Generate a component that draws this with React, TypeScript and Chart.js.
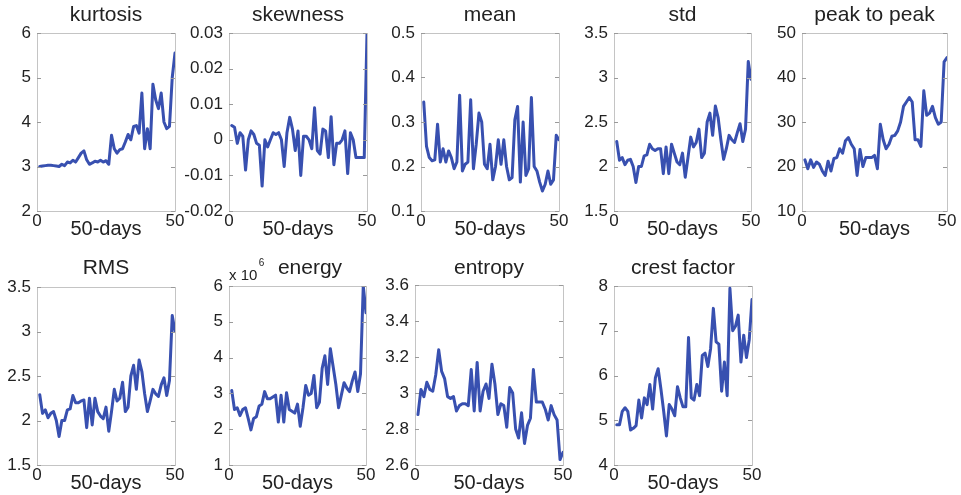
import React, { useEffect, useRef } from 'react';
import { Chart, registerables } from 'chart.js';

Chart.register(...registerables);

const DAYS = [1, 2, 3, 4, 5, 6, 7, 8, 9, 10, 11, 12, 13, 14, 15, 16, 17, 18, 19, 20, 21, 22, 23, 24, 25, 26, 27, 28, 29, 30, 31, 32, 33, 34, 35, 36, 37, 38, 39, 40, 41, 42, 43, 44, 45, 46, 47, 48, 49, 50];

const KURTOSIS = [3.00, 3.01, 3.02, 3.03, 3.03, 3.02, 3.01, 3.00, 3.05, 3.02, 3.10, 3.08, 3.14, 3.10, 3.20, 3.30, 3.35, 3.15, 3.05, 3.08, 3.12, 3.10, 3.14, 3.10, 3.13, 3.05, 3.70, 3.40, 3.30, 3.38, 3.40, 3.55, 3.72, 3.60, 3.90, 3.92, 3.75, 4.65, 3.40, 3.85, 3.40, 4.85, 4.50, 4.30, 4.65, 4.00, 3.85, 3.90, 5.00, 5.55];

const SKEWNESS = [0.004, 0.0035, -0.001, 0.002, 0.001, -0.0085, 0.0, 0.0025, 0.0015, -0.001, -0.0015, -0.013, 0.0, -0.002, 0.0, 0.002, 0.0015, 0.002, 0.0, -0.0075, 0.002, 0.0063, 0.003, -0.003, 0.0025, -0.010, 0.001, 0.001, 0.0, -0.0025, 0.009, -0.003, -0.004, 0.003, 0.0025, -0.005, 0.0065, -0.007, -0.001, -0.001, 0.0, 0.0025, -0.0095, 0.002, 0.0, -0.005, -0.005, -0.005, -0.005, 0.030];

const MEAN = [0.345, 0.245, 0.22, 0.213, 0.215, 0.295, 0.21, 0.24, 0.21, 0.235, 0.22, 0.195, 0.21, 0.36, 0.19, 0.205, 0.21, 0.35, 0.195, 0.25, 0.32, 0.30, 0.205, 0.195, 0.25, 0.17, 0.20, 0.26, 0.205, 0.26, 0.20, 0.17, 0.175, 0.305, 0.335, 0.165, 0.30, 0.18, 0.195, 0.355, 0.20, 0.19, 0.165, 0.145, 0.16, 0.19, 0.16, 0.17, 0.27, 0.26];

const STD = [2.28, 2.07, 2.10, 2.02, 2.07, 2.08, 2.00, 1.82, 2.00, 2.00, 2.12, 2.13, 2.25, 2.20, 2.18, 2.20, 2.20, 1.92, 2.22, 1.92, 2.25, 2.15, 2.05, 2.02, 2.15, 1.88, 2.10, 2.33, 2.22, 2.27, 2.42, 2.10, 2.15, 2.50, 2.60, 2.35, 2.68, 2.55, 2.30, 2.08, 2.20, 2.35, 2.30, 2.27, 2.38, 2.48, 2.28, 2.42, 3.18, 2.98];

const PEAK_TO_PEAK = [21.5, 19.5, 21.5, 19.8, 21.0, 20.5, 19.0, 18.0, 21.2, 19.0, 21.8, 22.0, 24.0, 23.0, 25.8, 26.5, 25.0, 24.0, 18.0, 23.8, 20.0, 22.0, 22.0, 22.0, 22.5, 19.5, 29.5, 26.0, 24.0, 25.0, 26.8, 27.0, 28.0, 30.0, 33.5, 34.5, 35.5, 34.5, 26.0, 26.0, 24.5, 37.0, 31.5, 32.0, 33.5, 31.0, 29.5, 30.0, 43.5, 44.5];

const RMS = [2.29, 2.08, 2.12, 2.03, 2.08, 2.10, 2.00, 1.82, 2.00, 2.00, 2.12, 2.13, 2.28, 2.20, 2.20, 2.22, 2.23, 1.92, 2.25, 1.95, 2.25, 2.10, 2.05, 2.02, 2.15, 1.88, 2.10, 2.35, 2.22, 2.25, 2.43, 2.10, 2.15, 2.50, 2.62, 2.35, 2.68, 2.55, 2.30, 2.10, 2.22, 2.35, 2.30, 2.27, 2.40, 2.48, 2.28, 2.45, 3.18, 3.00];

// energy in units of 10^6
const ENERGY = [3.08, 2.55, 2.60, 2.38, 2.55, 2.60, 2.30, 1.98, 2.30, 2.35, 2.65, 2.70, 3.05, 2.85, 2.85, 2.90, 2.95, 2.20, 2.95, 2.20, 3.02, 2.55, 2.50, 2.45, 2.70, 2.08, 2.60, 3.22, 2.95, 3.00, 3.50, 2.60, 2.75, 3.70, 4.05, 3.25, 4.25, 3.75, 3.25, 2.60, 2.95, 3.30, 3.15, 3.05, 3.35, 3.60, 3.05, 3.55, 6.00, 5.25];

const ENTROPY = [2.88, 3.02, 2.98, 3.06, 3.02, 3.01, 3.10, 3.24, 3.12, 3.08, 2.98, 2.97, 2.98, 2.90, 2.93, 2.94, 2.94, 2.93, 3.13, 2.90, 3.17, 2.90, 3.01, 3.05, 2.97, 3.16, 3.05, 2.88, 2.94, 2.93, 2.81, 3.03, 3.00, 2.80, 2.75, 2.89, 2.72, 2.82, 2.86, 3.13, 2.95, 2.95, 2.95, 2.91, 2.85, 2.93, 2.88, 2.85, 2.63, 2.67];

const CREST_FACTOR = [4.90, 4.90, 5.20, 5.28, 5.20, 4.78, 4.82, 4.88, 5.45, 5.05, 5.50, 5.35, 5.80, 5.25, 5.95, 6.15, 5.70, 5.20, 4.65, 5.35, 5.25, 5.10, 5.75, 5.50, 5.30, 5.30, 6.85, 5.50, 5.45, 5.80, 5.55, 6.45, 6.50, 6.20, 6.60, 7.50, 6.75, 6.70, 5.65, 6.30, 5.55, 7.95, 7.00, 7.10, 7.35, 6.30, 6.90, 6.40, 6.80, 7.70];

const X_LABEL = '50-days';

const FONT = '"Liberation Sans", Arial, Helvetica, sans-serif';
const BOX = '#c4c4c4';
const TICK = '#9a9a9a';
const LINE = '#3850b0';
const TEXT = '#222222';

type Panel = {
  title: string;
  data: number[];
  min: number;
  max: number;
  step: number;
  L: number;
  R: number;
  T: number;
  B: number;
  rowTop: number;
  titlePad: number;
  exponent?: boolean;
};

const PANELS: Panel[] = [
  { title: 'kurtosis', data: KURTOSIS, min: 2, max: 6, step: 1, L: 37, R: 175, T: 33, B: 211, rowTop: 0, titlePad: 3 },
  { title: 'skewness', data: SKEWNESS, min: -0.02, max: 0.03, step: 0.01, L: 229, R: 367, T: 33, B: 211, rowTop: 0, titlePad: 3 },
  { title: 'mean', data: MEAN, min: 0.1, max: 0.5, step: 0.1, L: 421, R: 559, T: 33, B: 211, rowTop: 0, titlePad: 3 },
  { title: 'std', data: STD, min: 1.5, max: 3.5, step: 0.5, L: 614, R: 751, T: 33, B: 211, rowTop: 0, titlePad: 3 },
  { title: 'peak to peak', data: PEAK_TO_PEAK, min: 10, max: 50, step: 10, L: 802, R: 947, T: 33, B: 211, rowTop: 0, titlePad: 3 },
  { title: 'RMS', data: RMS, min: 1.5, max: 3.5, step: 0.5, L: 37, R: 175, T: 287, B: 465, rowTop: 245, titlePad: 11 },
  { title: 'energy', data: ENERGY, min: 1, max: 6, step: 1, L: 229, R: 366, T: 286, B: 465, rowTop: 245, titlePad: 11, exponent: true },
  { title: 'entropy', data: ENTROPY, min: 2.6, max: 3.6, step: 0.2, L: 415, R: 563, T: 285, B: 465, rowTop: 245, titlePad: 11 },
  { title: 'crest factor', data: CREST_FACTOR, min: 4, max: 8, step: 1, L: 614, R: 752, T: 286, B: 465, rowTop: 245, titlePad: 11 },
];

const LEFT_W = 45;
const RIGHT_W = 15;
const BOTTOM_H = 30;
const TICK_LEN = 4;

const fmt = (v: any) => String(Number(Number(v).toFixed(4)));

// inward MATLAB-style tick marks on left and right edges, at the y scale's ticks
const innerTicksPlugin = {
  id: 'innerTicks',
  afterDraw(chart: any) {
    const { ctx, chartArea } = chart;
    const ys = chart.scales.y;
    ctx.save();
    ctx.strokeStyle = TICK;
    ctx.lineWidth = 1;
    ctx.beginPath();
    ys.ticks.forEach((t: any) => {
      const py = Math.round(ys.getPixelForValue(t.value)) + 0.5;
      ctx.moveTo(chartArea.left, py);
      ctx.lineTo(chartArea.left + TICK_LEN, py);
      ctx.moveTo(chartArea.right, py);
      ctx.lineTo(chartArea.right - TICK_LEN, py);
    });
    ctx.stroke();
    ctx.restore();
  },
};

function makeExponentPlugin(p: Panel) {
  return {
    id: 'exponentLabel',
    afterDraw(chart: any) {
      if (!p.exponent) return;
      const { ctx, chartArea } = chart;
      ctx.save();
      ctx.fillStyle = TEXT;
      ctx.textAlign = 'left';
      ctx.textBaseline = 'alphabetic';
      ctx.font = `15px ${FONT}`;
      ctx.fillText('x 10', chartArea.left, chartArea.top - 6);
      const w = ctx.measureText('x 10').width;
      ctx.font = `10px ${FONT}`;
      ctx.fillText('6', chartArea.left + w + 1.5, chartArea.top - 20);
      ctx.font = `21px ${FONT}`;
      ctx.textAlign = 'center';
      ctx.textBaseline = 'middle';
      ctx.fillText(p.title, (chartArea.left + chartArea.right) / 2 + 12.5, p.titlePad + 12.6);
      ctx.restore();
    },
  };
}

function PanelChart({ p }: { p: Panel }) {
  const ref = useRef<HTMLCanvasElement | null>(null);
  const width = p.R - p.L + LEFT_W + RIGHT_W;
  const height = p.B + BOTTOM_H - p.rowTop;
  const topH = p.T - p.rowTop;

  useEffect(() => {
    if (!ref.current) return;
    const chart = new Chart(ref.current, {
      type: 'line',
      data: {
        datasets: [
          {
            data: p.data.map((v, i) => ({ x: DAYS[i], y: v })),
            borderColor: LINE,
            borderWidth: 3,
            pointRadius: 0,
            tension: 0,
            fill: false,
            borderJoinStyle: 'round',
            borderCapStyle: 'round',
            xAxisID: 'x',
            yAxisID: 'y',
          } as any,
        ],
      },
      options: {
        animation: false,
        responsive: false,
        maintainAspectRatio: false,
        devicePixelRatio: 1,
        layout: { padding: 0 },
        plugins: {
          legend: { display: false },
          tooltip: { enabled: false },
          title: { display: false },
        },
        scales: {
          x: {
            type: 'linear',
            position: 'bottom',
            min: 0,
            max: 50,
            ticks: {
              stepSize: 50,
              padding: 0,
              maxRotation: 0,
              autoSkip: false,
              color: TEXT,
              font: { family: FONT, size: 17 },
              callback: fmt,
            },
            grid: { drawOnChartArea: false, drawTicks: false },
            border: { display: true, color: BOX, width: 1 },
            title: {
              display: true,
              text: X_LABEL,
              color: TEXT,
              font: { family: FONT, size: 20 },
              padding: { top: 0, bottom: 0 },
            },
            afterFit: (s: any) => {
              s.height = BOTTOM_H;
            },
          },
          xTop: {
            type: 'linear',
            position: 'top',
            min: 0,
            max: 50,
            ticks: { display: false },
            grid: { drawOnChartArea: false, drawTicks: false },
            border: { display: true, color: BOX, width: 1 },
            title: {
              display: !p.exponent,
              text: p.title,
              color: TEXT,
              font: { family: FONT, size: 21 },
              padding: { top: p.titlePad, bottom: 0 },
            },
            afterFit: (s: any) => {
              s.height = topH;
            },
          },
          y: {
            type: 'linear',
            position: 'left',
            min: p.min,
            max: p.max,
            ticks: {
              stepSize: p.step,
              padding: 6,
              autoSkip: false,
              color: TEXT,
              font: { family: FONT, size: 17 },
              callback: fmt,
            },
            grid: { drawOnChartArea: false, drawTicks: false },
            border: { display: true, color: BOX, width: 1 },
            afterFit: (s: any) => {
              s.width = LEFT_W;
            },
          },
          yRight: {
            type: 'linear',
            position: 'right',
            min: p.min,
            max: p.max,
            ticks: { display: false, stepSize: p.step },
            grid: { drawOnChartArea: false, drawTicks: false },
            border: { display: true, color: BOX, width: 1 },
            afterFit: (s: any) => {
              s.width = RIGHT_W;
            },
          },
        },
      } as any,
      plugins: [innerTicksPlugin, makeExponentPlugin(p)],
    });
    return () => chart.destroy();
  }, [p]);

  return (
    <canvas
      ref={ref}
      width={width}
      height={height}
      style={{
        position: 'absolute',
        left: p.L - LEFT_W,
        top: p.rowTop,
        width,
        height,
      }}
    />
  );
}

export default function App() {
  return (
    <div
      style={{
        position: 'absolute',
        left: 0,
        top: 0,
        width: 961,
        height: 495,
        overflow: 'hidden',
        background: '#ffffff',
      }}
    >
      {PANELS.map((p) => (
        <PanelChart key={p.title} p={p} />
      ))}
    </div>
  );
}
